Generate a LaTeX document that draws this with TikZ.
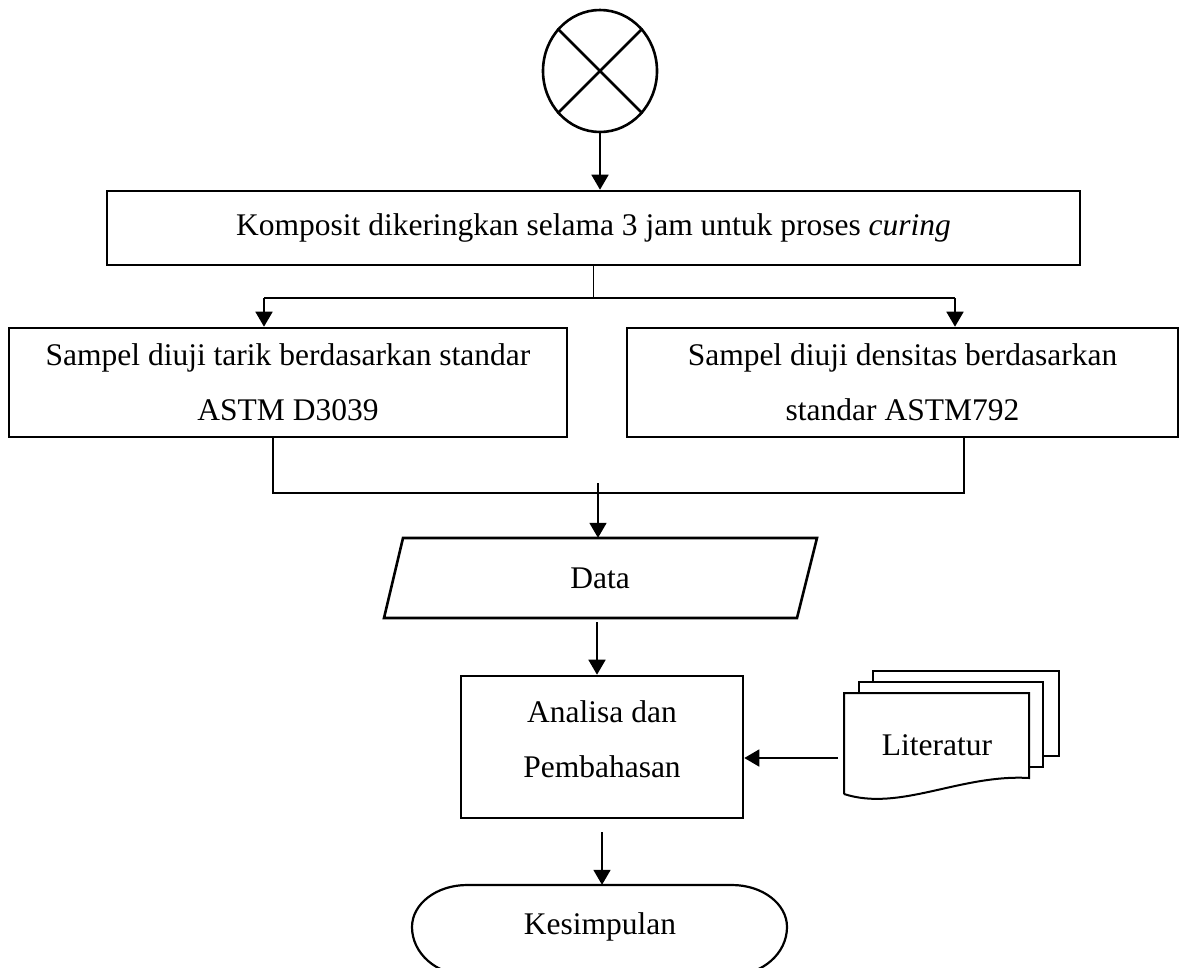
\documentclass[tikz,border=0pt]{standalone}
\usepackage{fontspec}
\setmainfont{Liberation Serif}
\usetikzlibrary{arrows.meta,shapes.geometric}
\begin{document}
\begin{tikzpicture}[x=1pt,y=-1pt,
  boxline/.style={draw=black,line width=2.6pt},
  conn/.style={draw=black,line width=1.8pt},
  arr/.style={conn,-{Triangle[width=17pt,length=15pt]}},
  txt/.style={font=\fontsize{31.5pt}{55pt}\selectfont,align=center,inner sep=0pt},
  procbox/.style={boxline,rectangle,inner sep=0pt,txt}
]
\useasboundingbox (0,0) rectangle (1180,967);
\clip (0,0) rectangle (1180,967);
% start connector circle
\node[ellipse,boxline,minimum width=114pt,minimum height=122pt,inner sep=0pt] (circ) at (600,71) {};
\draw[boxline] (circ.135) -- (circ.-45);
\draw[boxline] (circ.45) -- (circ.-135);
% box 1
\node[procbox,minimum width=973pt,minimum height=74pt] (box1) at (593.5,228) {Komposit dikeringkan selama 3 jam untuk proses \textit{curing}};
\draw[arr] (circ.south) -- (circ.south |- box1.north);
% two test boxes
\node[procbox,minimum width=558pt,minimum height=109pt] (lbox) at (288,382.5) {Sampel diuji tarik berdasarkan standar\\ASTM D3039};
\node[procbox,minimum width=551pt,minimum height=109pt] (rbox) at (902.5,382.5) {Sampel diuji densitas berdasarkan\\standar ASTM792};
\coordinate (split) at (593.5,298);
\coordinate (sl) at (264,298);
\coordinate (sr) at (955,298);
\draw[conn] (box1.south) -- (split);
\draw[conn] (sl) -- (sr);
\draw[arr] (sl) -- (sl |- lbox.north);
\draw[arr] (sr) -- (sr |- rbox.north);
% merge
\node[txt,minimum width=414pt,minimum height=80pt] (data) at (600,578) {Data};
\draw[boxline] (403,538) -- (817,538) -- (797,618) -- (384,618) -- cycle;
\coordinate (ml) at (273,493);
\coordinate (mr) at (964,493);
\coordinate (mtop) at (598,483);
\draw[conn] (ml |- lbox.south) -- (ml) -- (mr) -- (mr |- rbox.south);
\draw[arr] (mtop) -- (mtop |- data.north);
% analisa
\node[boxline,rectangle,minimum width=282pt,minimum height=142pt,inner sep=0pt] (ana) at (602,747) {};
\node[txt] (anat) at (602,739) {Analisa dan\\Pembahasan};
\coordinate (dout) at (597,622);
\draw[arr] (dout) -- (dout |- ana.north);
% literatur (multi document)
\draw[conn,line width=2pt,fill=white] (873,682) -- (873,671) -- (1059,671) -- (1059,756) -- (1043,756);
\draw[conn,line width=2pt,fill=white] (859,693) -- (859,682) -- (1043,682) -- (1043,767) -- (1029,767);
\draw[conn,line width=2pt,fill=white] (844,794) -- (844,693) -- (1029,693) -- (1029,778)
   .. controls (960,774) and (900,812) .. (844,794);
\node[txt] (lit) at (937,745) {Literatur};
\coordinate (litin) at (838,758);
\draw[arr] (litin) -- (ana.east |- litin);
% kesimpulan terminator
\node[txt,minimum width=375pt,minimum height=84pt] (kes) at (600,927) {Kesimpulan};
\draw[boxline,line width=2.2pt] (467,885) -- (732,885)
  .. controls (762.4,885) and (787,903.8) .. (787,927)
  .. controls (787,953.5) and (762.4,975) .. (732,975)
  -- (467,975)
  .. controls (436.6,975) and (412,953.5) .. (412,927)
  .. controls (412,903.8) and (436.6,885) .. (467,885) -- cycle;
\coordinate (aout) at (602,832);
\draw[arr] (aout) -- (aout |- kes.north);
\end{tikzpicture}
\end{document}
